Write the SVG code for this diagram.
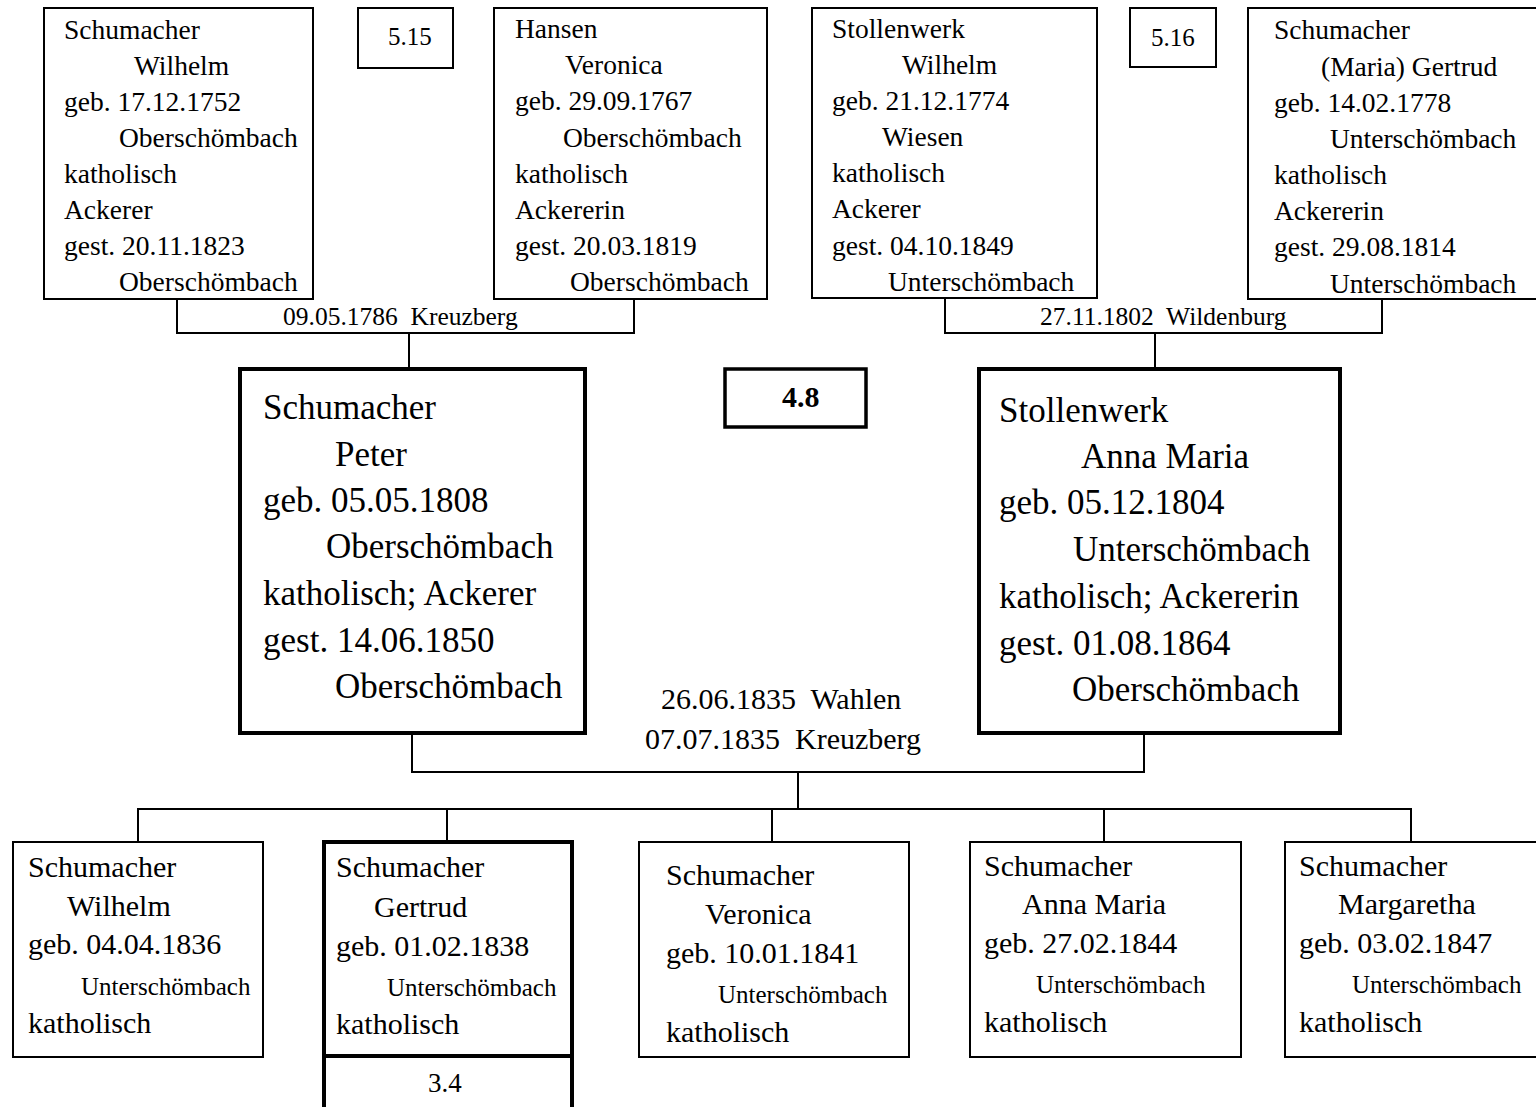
<svg xmlns="http://www.w3.org/2000/svg" width="1536" height="1107" viewBox="0 0 1536 1107">
  <style>
    text { font-family: "Liberation Serif", "Times New Roman", serif; fill: #000; }
    .box { fill: #fff; stroke: #000; stroke-width: 2; }
    .thick { fill: #fff; stroke: #000; stroke-width: 4; }
    .wire { fill: none; stroke: #000; stroke-width: 2; }
    .t28 { font-size: 27.5px; }
    .t35 { font-size: 35px; }
    .t30 { font-size: 30px; }
    .t25 { font-size: 25px; }
    .lbl { font-size: 25.5px; }
    .mar { font-size: 30px; }
  </style>
  <rect width="1536" height="1107" fill="#fff"/>

  <!-- connectors -->
  <g id="connectors">
    <path class="wire" d="M177 299 V333 H634 V299"/>
    <path class="wire" d="M409 333 V368"/>
    <path class="wire" d="M945 298 V333 H1382 V299"/>
    <path class="wire" d="M1155 333 V368"/>
    <path class="wire" d="M412 733 V772 H1144 V733"/>
    <path class="wire" d="M798 772 V809"/>
    <path class="wire" d="M138 842 V809 H1411 V842"/>
    <path class="wire" d="M447 809 V842"/>
    <path class="wire" d="M772 809 V842"/>
    <path class="wire" d="M1104 809 V842"/>
    <text class="lbl" x="283" y="325">09.05.1786&#160; Kreuzberg</text>
    <text class="lbl" x="1040" y="325">27.11.1802&#160; Wildenburg</text>
    <text class="mar" x="661" y="709">26.06.1835&#160; Wahlen</text>
    <text class="mar" x="645" y="749">07.07.1835&#160; Kreuzberg</text>
  </g>

  <!-- generation 5 -->
  <g id="wilhelm-schumacher-1752">
    <rect class="box" x="44" y="8" width="269" height="291"/>
    <text class="t28" x="64" y="39">Schumacher</text>
    <text class="t28" x="134" y="75">Wilhelm</text>
    <text class="t28" x="64" y="111">geb. 17.12.1752</text>
    <text class="t28" x="119" y="147">Oberschömbach</text>
    <text class="t28" x="64" y="183">katholisch</text>
    <text class="t28" x="64" y="219">Ackerer</text>
    <text class="t28" x="64" y="255">gest. 20.11.1823</text>
    <text class="t28" x="119" y="291">Oberschömbach</text>
  </g>
  <g id="ref-5-15">
    <rect class="box" x="358" y="8" width="95" height="60"/>
    <text class="t25" x="388" y="45">5.15</text>
  </g>
  <g id="veronica-hansen-1767">
    <rect class="box" x="494" y="8" width="273" height="291"/>
    <text class="t28" x="515" y="38">Hansen</text>
    <text class="t28" x="565" y="74">Veronica</text>
    <text class="t28" x="515" y="110">geb. 29.09.1767</text>
    <text class="t28" x="563" y="147">Oberschömbach</text>
    <text class="t28" x="515" y="183">katholisch</text>
    <text class="t28" x="515" y="219">Ackererin</text>
    <text class="t28" x="515" y="255">gest. 20.03.1819</text>
    <text class="t28" x="570" y="291">Oberschömbach</text>
  </g>
  <g id="wilhelm-stollenwerk-1774">
    <rect class="box" x="812" y="8" width="285" height="290"/>
    <text class="t28" x="832" y="38">Stollenwerk</text>
    <text class="t28" x="902" y="74">Wilhelm</text>
    <text class="t28" x="832" y="110">geb. 21.12.1774</text>
    <text class="t28" x="882" y="146">Wiesen</text>
    <text class="t28" x="832" y="182">katholisch</text>
    <text class="t28" x="832" y="218">Ackerer</text>
    <text class="t28" x="832" y="255">gest. 04.10.1849</text>
    <text class="t28" x="888" y="291">Unterschömbach</text>
  </g>
  <g id="ref-5-16">
    <rect class="box" x="1130" y="8" width="86" height="59"/>
    <text class="t25" x="1151" y="46">5.16</text>
  </g>
  <g id="gertrud-schumacher-1778">
    <rect class="box" x="1248" y="8" width="300" height="291"/>
    <text class="t28" x="1274" y="39">Schumacher</text>
    <text class="t28" x="1321" y="76">(Maria) Gertrud</text>
    <text class="t28" x="1274" y="112">geb. 14.02.1778</text>
    <text class="t28" x="1330" y="148">Unterschömbach</text>
    <text class="t28" x="1274" y="184">katholisch</text>
    <text class="t28" x="1274" y="220">Ackererin</text>
    <text class="t28" x="1274" y="256">gest. 29.08.1814</text>
    <text class="t28" x="1330" y="293">Unterschömbach</text>
  </g>

  <!-- generation 4 -->
  <g id="peter-schumacher-1808">
    <rect class="thick" x="240" y="369" width="345" height="364"/>
    <text class="t35" x="263" y="419">Schumacher</text>
    <text class="t35" x="335" y="466">Peter</text>
    <text class="t35" x="263" y="512">geb. 05.05.1808</text>
    <text class="t35" x="326" y="558">Oberschömbach</text>
    <text class="t35" x="263" y="605">katholisch; Ackerer</text>
    <text class="t35" x="263" y="652">gest. 14.06.1850</text>
    <text class="t35" x="335" y="698">Oberschömbach</text>
  </g>
  <g id="ref-4-8">
    <rect class="thick" x="725" y="369" width="141" height="58" style="stroke-width:3.5"/>
    <text x="782" y="407" style="font-size:30px;font-weight:bold">4.8</text>
  </g>
  <g id="anna-maria-stollenwerk-1804">
    <rect class="thick" x="979" y="369" width="361" height="364"/>
    <text class="t35" x="999" y="422">Stollenwerk</text>
    <text class="t35" x="1081" y="468">Anna Maria</text>
    <text class="t35" x="999" y="514">geb. 05.12.1804</text>
    <text class="t35" x="1073" y="561">Unterschömbach</text>
    <text class="t35" x="999" y="608">katholisch; Ackererin</text>
    <text class="t35" x="999" y="655">gest. 01.08.1864</text>
    <text class="t35" x="1072" y="701">Oberschömbach</text>
  </g>

  <!-- generation 3 -->
  <g id="wilhelm-schumacher-1836">
    <rect class="box" x="13" y="842" width="250" height="215"/>
    <text class="t30" x="28" y="877">Schumacher</text>
    <text class="t30" x="67" y="916">Wilhelm</text>
    <text class="t30" x="28" y="954">geb. 04.04.1836</text>
    <text class="t25" x="81" y="995">Unterschömbach</text>
    <text class="t30" x="28" y="1033">katholisch</text>
  </g>
  <g id="gertrud-schumacher-1838">
    <rect class="thick" x="324" y="842" width="248" height="300"/>
    <line x1="324" y1="1056" x2="572" y2="1056" stroke="#000" stroke-width="4"/>
    <text class="t30" x="336" y="877">Schumacher</text>
    <text class="t30" x="374" y="917">Gertrud</text>
    <text class="t30" x="336" y="956">geb. 01.02.1838</text>
    <text class="t25" x="387" y="996">Unterschömbach</text>
    <text class="t30" x="336" y="1034">katholisch</text>
    <text x="428" y="1092" style="font-size:27px">3.4</text>
  </g>
  <g id="veronica-schumacher-1841">
    <rect class="box" x="639" y="842" width="270" height="215"/>
    <text class="t30" x="666" y="885">Schumacher</text>
    <text class="t30" x="705" y="924">Veronica</text>
    <text class="t30" x="666" y="963">geb. 10.01.1841</text>
    <text class="t25" x="718" y="1003">Unterschömbach</text>
    <text class="t30" x="666" y="1042">katholisch</text>
  </g>
  <g id="anna-maria-schumacher-1844">
    <rect class="box" x="970" y="842" width="271" height="215"/>
    <text class="t30" x="984" y="876">Schumacher</text>
    <text class="t30" x="1022" y="914">Anna Maria</text>
    <text class="t30" x="984" y="953">geb. 27.02.1844</text>
    <text class="t25" x="1036" y="993">Unterschömbach</text>
    <text class="t30" x="984" y="1032">katholisch</text>
  </g>
  <g id="margaretha-schumacher-1847">
    <rect class="box" x="1285" y="842" width="300" height="215"/>
    <text class="t30" x="1299" y="876">Schumacher</text>
    <text class="t30" x="1338" y="914">Margaretha</text>
    <text class="t30" x="1299" y="953">geb. 03.02.1847</text>
    <text class="t25" x="1352" y="993">Unterschömbach</text>
    <text class="t30" x="1299" y="1032">katholisch</text>
  </g>
</svg>
